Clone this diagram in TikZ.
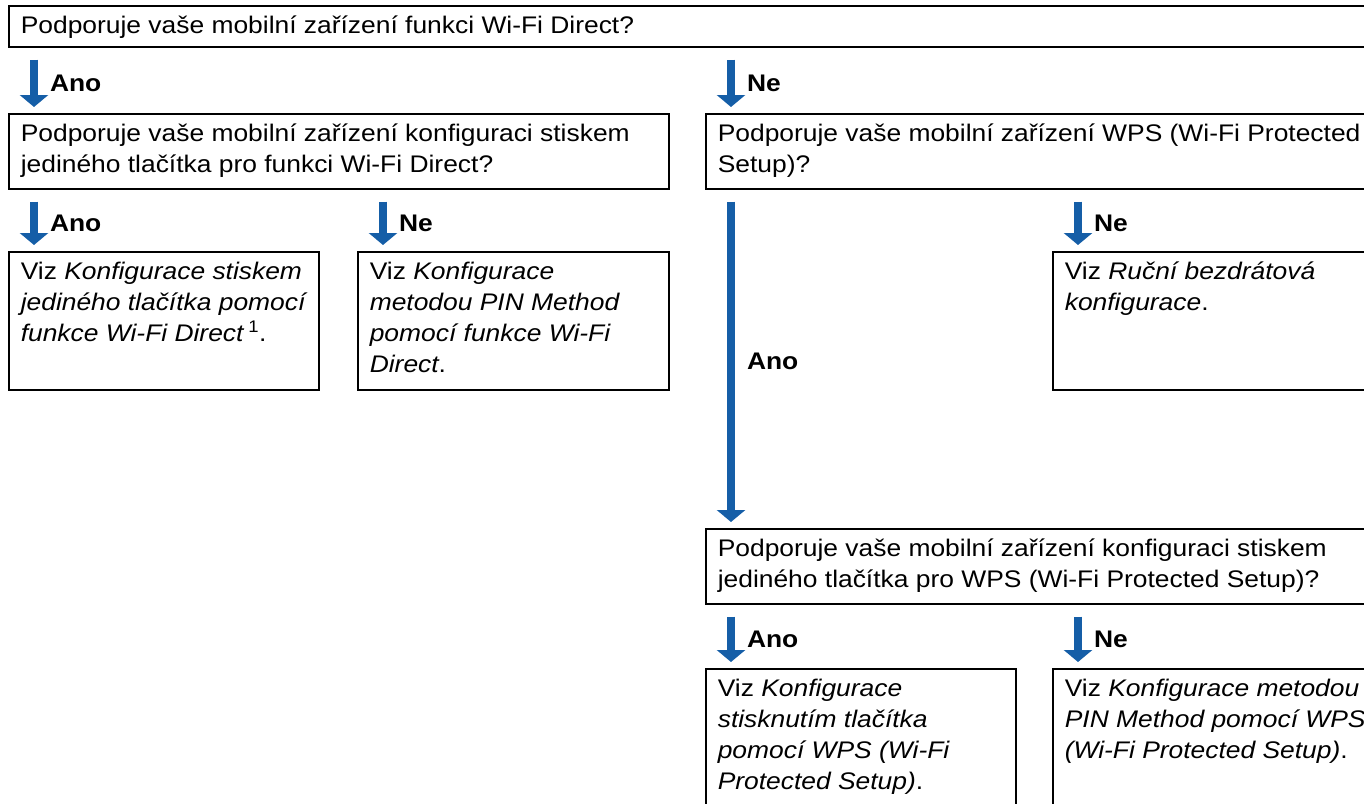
\documentclass[tikz,border=0pt]{standalone}
\usepackage{fontspec}
\setmainfont{Liberation Sans}[FakeStretch=1.1]
\usetikzlibrary{arrows.meta}

\definecolor{arrowblue}{RGB}{21,94,167}
\newcommand{\boxtext}[3]{\makebox[#1][l]{\parbox[t][#2][t]{\dimexpr#1+40pt}{\raggedright\strut #3}}}

\tikzset{
  qbox/.style={draw, line width=1.6pt, anchor=north west, inner xsep=12pt, inner ysep=6pt,
    font=\fontsize{24pt}{31pt}\selectfont},
  flow/.style={draw=arrowblue, line width=8pt, -{Triangle[width=28pt,length=12pt]},
    shorten <=12pt, shorten >=6pt},
  lbl/.style={font=\bfseries\fontsize{24pt}{31pt}\selectfont, anchor=west, inner sep=0pt,
    xshift=12pt, yshift=-3pt}
}

\begin{document}
\begin{tikzpicture}[x=1pt, y=-1pt]
  \useasboundingbox (0,0) rectangle (1364,803);
  \clip (0,0) rectangle (1364,803);

  % questions
  \node[qbox] (top) at (8,5) {\boxtext{1370pt}{29pt}{Podporuje vaše mobilní zařízení funkci Wi-Fi Direct?}};
  \node[qbox] (wfd) at (8,113) {\boxtext{636pt}{63pt}{Podporuje vaše mobilní zařízení konfiguraci stiskem\\
    jediného tlačítka pro funkci Wi-Fi Direct?}};
  \node[qbox] (wps) at (705,113) {\boxtext{660pt}{63pt}{Podporuje vaše mobilní zařízení WPS (Wi-Fi Protected\\
    Setup)?}};
  \node[qbox] (pbc) at (705,528) {\boxtext{660pt}{63pt}{Podporuje vaše mobilní zařízení konfiguraci stiskem\\
    jediného tlačítka pro WPS (Wi-Fi Protected Setup)?}};

  % answers
  \node[qbox] (wfdpbc) at (8,251) {\boxtext{286pt}{126pt}{Viz \textit{Konfigurace stiskem\\
    jediného tlačítka pomocí\\ funkce Wi-Fi Direct}\,\textsuperscript{1}.}};
  \node[qbox] (wfdpin) at (357,251) {\boxtext{287pt}{126pt}{Viz \textit{Konfigurace\\
    metodou PIN Method\\ pomocí funkce Wi-Fi\\ Direct}.}};
  \node[qbox] (manual) at (1052,251) {\boxtext{320pt}{126pt}{Viz \textit{Ruční bezdrátová\\
    konfigurace}.}};
  \node[qbox] (wpspbc) at (705,668) {\boxtext{286pt}{150pt}{Viz \textit{Konfigurace\\
    stisknutím tlačítka\\ pomocí WPS (Wi-Fi\\ Protected Setup)}.}};
  \node[qbox] (wpspin) at (1052,668) {\boxtext{320pt}{150pt}{Viz \textit{Konfigurace metodou\\
    PIN Method pomocí WPS\\ (Wi-Fi Protected Setup)}.}};

  % arrow ends
  \coordinate (a1) at ([xshift=26pt]wfd.north west);
  \coordinate (a2) at ([xshift=26pt]wps.north west);
  \coordinate (a3) at ([xshift=26pt]wfdpbc.north west);
  \coordinate (a4) at ([xshift=26pt]wfdpin.north west);
  \coordinate (a5) at ([xshift=26pt]pbc.north west);
  \coordinate (a6) at ([xshift=26pt]manual.north west);
  \coordinate (a7) at ([xshift=26pt]wpspbc.north west);
  \coordinate (a8) at ([xshift=26pt]wpspin.north west);

  \draw[flow] (a1 |- top.south) -- (a1) node[lbl, midway] {Ano};
  \draw[flow] (a2 |- top.south) -- (a2) node[lbl, midway] {Ne};
  \draw[flow] (a3 |- wfd.south) -- (a3) node[lbl, midway] {Ano};
  \draw[flow] (a4 |- wfd.south) -- (a4) node[lbl, midway] {Ne};
  \draw[flow] (a5 |- wps.south) -- (a5) node[lbl, midway] {Ano};
  \draw[flow] (a6 |- wps.south) -- (a6) node[lbl, midway] {Ne};
  \draw[flow] (a7 |- pbc.south) -- (a7) node[lbl, midway] {Ano};
  \draw[flow] (a8 |- pbc.south) -- (a8) node[lbl, midway] {Ne};
\end{tikzpicture}
\end{document}
